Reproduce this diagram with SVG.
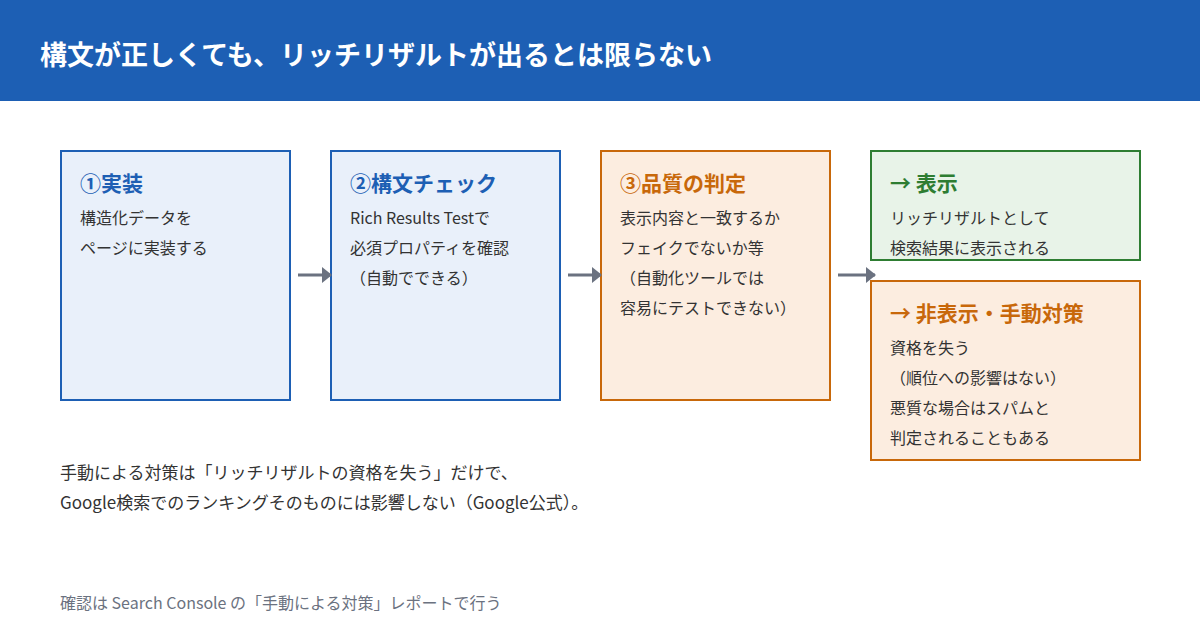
<svg xmlns="http://www.w3.org/2000/svg" width="1200" height="630" viewBox="0 0 1200 630">
<defs>
<marker id="ah" markerWidth="10" markerHeight="16" refX="9" refY="8" orient="auto" markerUnits="userSpaceOnUse"><path d="M0,0 L10,8 L0,16 Z" fill="#6b7280"/></marker>
<style>
text{font-family:"Noto Sans CJK JP","Noto Sans",sans-serif}
.ttl{font-size:27px;font-weight:700;fill:#fff}
.h{font-size:21px;font-weight:700}
.b{font-size:16px;fill:#333}
.blue{fill:#e9f0fa;stroke:#1d5fb4;stroke-width:2}
.org{fill:#fcede0;stroke:#c8680a;stroke-width:2}
.grn{fill:#e8f3e8;stroke:#2e7d32;stroke-width:2}
.hb{fill:#1d5fb4}.ho{fill:#c8680a}.hg{fill:#2e7d32}
.c{stroke:#6b7280;stroke-width:3;fill:none}
.note{font-size:17px;fill:#333}
.foot{font-size:16px;fill:#6b7280}
</style>
</defs>
<rect x="0" y="0" width="1200" height="630" fill="#fff"/>
<rect x="0" y="0" width="1200" height="101" fill="#1d5fb4"/>
<text class="ttl" x="40" y="65">構文が正しくても、リッチリザルトが出るとは限らない</text>
<g id="n1">
<rect class="blue" x="61" y="151" width="229" height="249"/>
<text class="h hb" x="80" y="191">①実装</text>
<text class="b" x="80" y="224">構造化データを</text>
<text class="b" x="80" y="254">ページに実装する</text>
</g>
<g id="n2">
<rect class="blue" x="331" y="151" width="229" height="249"/>
<text class="h hb" x="350" y="191">②構文チェック</text>
<text class="b" x="350" y="224">Rich Results Testで</text>
<text class="b" x="350" y="254">必須プロパティを確認</text>
<text class="b" x="350" y="284">（自動でできる）</text>
</g>
<g id="n3">
<rect class="org" x="601" y="151" width="229" height="249"/>
<text class="h ho" x="620" y="191">③品質の判定</text>
<text class="b" x="620" y="224">表示内容と一致するか</text>
<text class="b" x="620" y="254">フェイクでないか等</text>
<text class="b" x="620" y="284">（自動化ツールでは</text>
<text class="b" x="620" y="314">容易にテストできない）</text>
</g>
<g id="n4">
<rect class="grn" x="871" y="151" width="269" height="109"/>
<text class="h hg" x="890" y="191">→ 表示</text>
<text class="b" x="890" y="224">リッチリザルトとして</text>
<text class="b" x="890" y="254">検索結果に表示される</text>
</g>
<g id="n5">
<rect class="org" x="871" y="281" width="269" height="179"/>
<text class="h ho" x="890" y="321">→ 非表示・手動対策</text>
<text class="b" x="890" y="354">資格を失う</text>
<text class="b" x="890" y="384">（順位への影響はない）</text>
<text class="b" x="890" y="414">悪質な場合はスパムと</text>
<text class="b" x="890" y="444">判定されることもある</text>
</g>
<g id="connectors">
<line class="c" x1="298" y1="275" x2="331" y2="275" marker-end="url(#ah)"/>
<line class="c" x1="568" y1="275" x2="601" y2="275" marker-end="url(#ah)"/>
<line class="c" x1="838" y1="275" x2="875" y2="275" marker-end="url(#ah)"/>
</g>
<text class="note" x="60" y="479">手動による対策は「リッチリザルトの資格を失う」だけで、</text>
<text class="note" x="60" y="509">Google検索でのランキングそのものには影響しない（Google公式）。</text>
<text class="foot" x="60" y="609">確認は Search Console の「手動による対策」レポートで行う</text>
</svg>
